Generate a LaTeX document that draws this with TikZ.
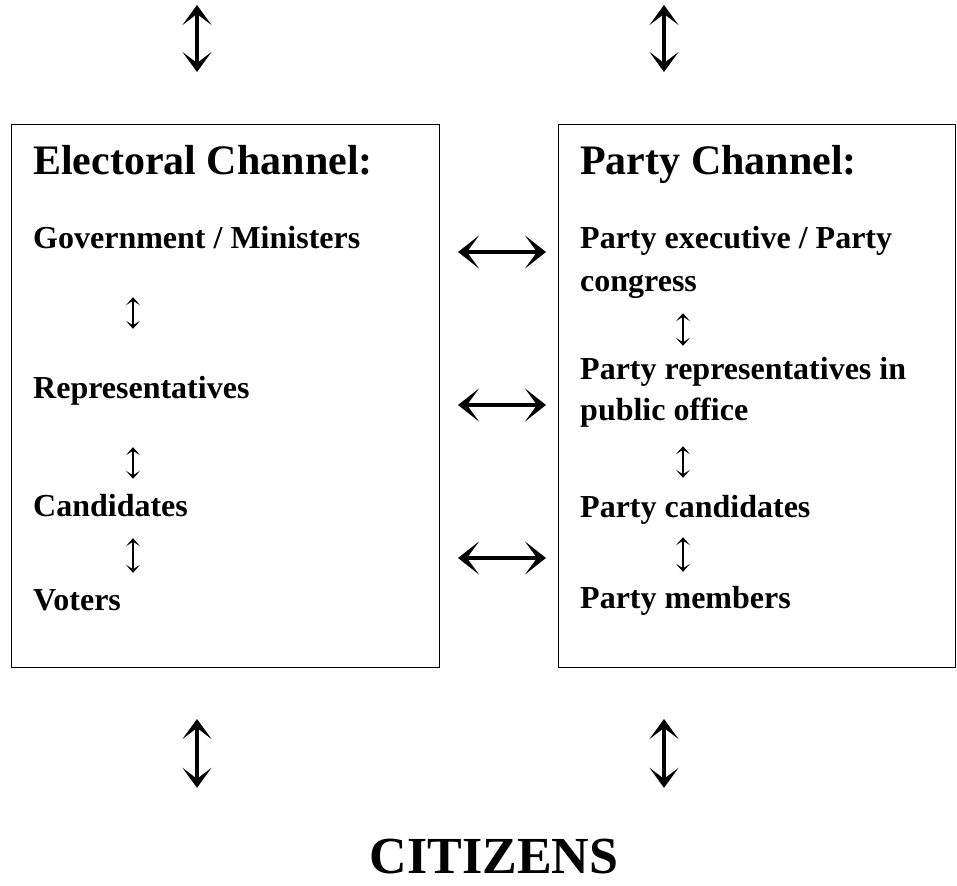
\documentclass[tikz,border=0pt]{standalone}
\usepackage{fontspec}
\setmainfont{Liberation Serif}
\usetikzlibrary{arrows.meta}

\tikzset{
  chanbox/.style={draw, line width=1pt, anchor=north west, inner sep=0pt},
  chantitle/.style={anchor=base west, inner sep=0pt, font=\fontsize{42}{50}\selectfont\bfseries},
  chanitem/.style={anchor=base west, inner sep=0pt, text height=22pt, text depth=7pt,
    font=\fontsize{32}{38}\selectfont\bfseries},
  bigud/.style={line width=3.6pt, >={Stealth[length=20pt,width=29pt,inset=11pt]}, <->},
  bigrl/.style={line width=3.6pt, >={Stealth[length=21pt,width=33pt,inset=12pt]}, <->},
  smallud/.style={line width=1.6pt, >={Stealth[length=8pt,width=14pt,inset=4.5pt]}, <->}
}

\begin{document}
\begin{tikzpicture}[x=1pt, y=-1pt]
  \useasboundingbox (0,0) rectangle (957,885);
  % the two channels
  \node[chanbox, minimum width=428pt, minimum height=543pt] (elbox) at (11,124) {};
  \node[chanbox, minimum width=397pt, minimum height=543pt] (pcbox) at (558,124) {};
  \node[chantitle] (eltitle) at (33,175) {Electoral Channel:};
  \node[chantitle] (pctitle) at (580,175) {Party Channel:};
  \node[chanitem] (gov) at (33,248) {Government / Ministers};
  \node[chanitem] (rep) at (33,398) {Representatives};
  \node[chanitem] (cand) at (33,516) {Candidates};
  \node[chanitem] (vot) at (33,610) {Voters};
  \node[chanitem] (pexec) at (580,248) {Party executive / Party};
  \node[chanitem] (pcong) at (580,291) {congress};
  \node[chanitem] (prep) at (580,379) {Party representatives in};
  \node[chanitem] (ppub) at (580,420) {public office};
  \node[chanitem] (pcand) at (580,517) {Party candidates};
  \node[chanitem] (pmem) at (580,608) {Party members};
  \node[anchor=base, inner sep=0pt, text height=35pt,
    font=\fontsize{52}{60}\selectfont\bfseries] (citizens) at (494,873) {CITIZENS};
  \coordinate (colL) at (133,0);
  \coordinate (colR) at (683,0);
  \coordinate (topL) at (197,5);
  \coordinate (topR) at (664,5);
  \coordinate (h1) at (0,252);
  \coordinate (h2) at (0,405);
  \coordinate (h3) at (0,558);
  % inside the boxes
  \draw[smallud, shorten <=42pt, shorten >=47pt] (gov.south -| colL) -- (rep.north -| colL);
  \draw[smallud, shorten <=42pt, shorten >=15pt] (rep.south -| colL) -- (cand.north -| colL);
  \draw[smallud, shorten <=15pt, shorten >=15pt] (cand.south -| colL) -- (vot.north -| colL);
  \draw[smallud, shorten <=15pt, shorten >=11pt] (pcong.south -| colR) -- (prep.north -| colR);
  \draw[smallud, shorten <=19pt, shorten >=17pt] (ppub.south -| colR) -- (pcand.north -| colR);
  \draw[smallud, shorten <=13pt, shorten >=14pt] (pcand.south -| colR) -- (pmem.north -| colR);
  % between the boxes
  \foreach \h in {h1,h2,h3}
    \draw[bigrl, shorten <=18pt, shorten >=12pt] (elbox.east |- \h) -- (pcbox.west |- \h);
  % above and below
  \draw[bigud, shorten >=52pt] (topL) -- (topL |- elbox.north);
  \draw[bigud, shorten >=52pt] (topR) -- (topR |- pcbox.north);
  \draw[bigud, shorten <=51pt, shorten >=50pt] (elbox.south -| topL) -- (citizens.north -| topL);
  \draw[bigud, shorten <=51pt, shorten >=50pt] (pcbox.south -| topR) -- (citizens.north -| topR);
\end{tikzpicture}
\end{document}
